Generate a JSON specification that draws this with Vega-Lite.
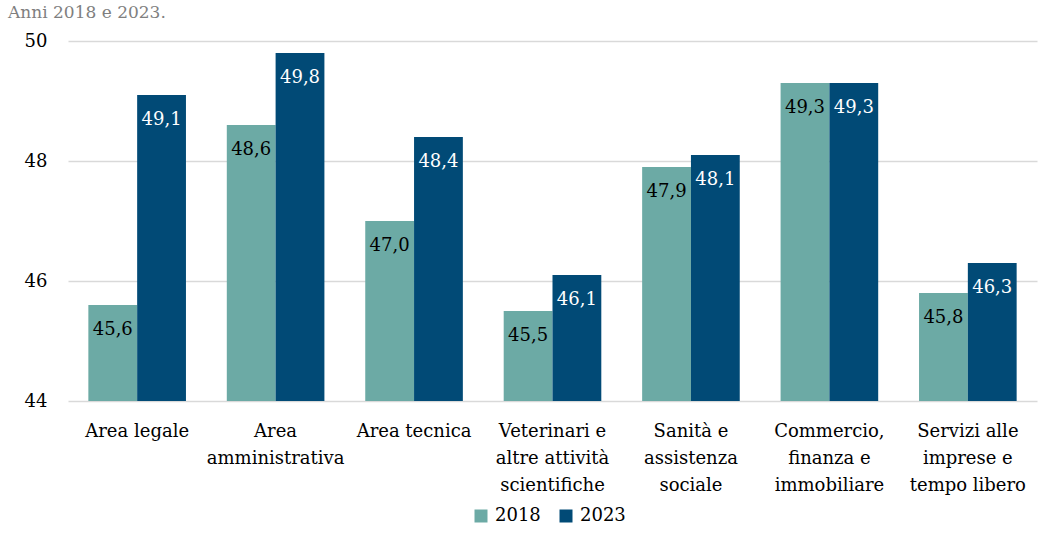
{
  "$schema": "https://vega.github.io/schema/vega-lite/v6.json",
  "width": 969,
  "height": 360,
  "autosize": {"type": "none"},
  "padding": {"left": 68, "top": 41, "right": 17, "bottom": 133},
  "background": "white",
  "title": {
    "text": "Anni 2018 e 2023.",
    "anchor": "start",
    "frame": "group",
    "dx": -60,
    "font": "DejaVu Serif",
    "fontSize": 17,
    "fontWeight": "normal",
    "color": "#7f7f7f",
    "baseline": "alphabetic",
    "offset": -3
  },
  "config": {
    "locale": {"number": {"decimal": ",", "thousands": ".", "grouping": [3], "currency": ["€", ""]}},
    "view": {"stroke": null},
    "font": "DejaVu Serif"
  },
  "data": {
    "values": [
      {"categoria": "Area legale", "anno": "2018", "valore": 45.6},
      {"categoria": "Area legale", "anno": "2023", "valore": 49.1},
      {"categoria": "Area amministrativa", "anno": "2018", "valore": 48.6},
      {"categoria": "Area amministrativa", "anno": "2023", "valore": 49.8},
      {"categoria": "Area tecnica", "anno": "2018", "valore": 47.0},
      {"categoria": "Area tecnica", "anno": "2023", "valore": 48.4},
      {"categoria": "Veterinari e altre attività scientifiche", "anno": "2018", "valore": 45.5},
      {"categoria": "Veterinari e altre attività scientifiche", "anno": "2023", "valore": 46.1},
      {"categoria": "Sanità e assistenza sociale", "anno": "2018", "valore": 47.9},
      {"categoria": "Sanità e assistenza sociale", "anno": "2023", "valore": 48.1},
      {"categoria": "Commercio, finanza e immobiliare", "anno": "2018", "valore": 49.3},
      {"categoria": "Commercio, finanza e immobiliare", "anno": "2023", "valore": 49.3},
      {"categoria": "Servizi alle imprese e tempo libero", "anno": "2018", "valore": 45.8},
      {"categoria": "Servizi alle imprese e tempo libero", "anno": "2023", "valore": 46.3}
    ]
  },
  "encoding": {
    "x": {
      "field": "categoria",
      "type": "nominal",
      "sort": null,
      "title": null,
      "scale": {"paddingInner": 0.295, "paddingOuter": 0.147},
      "axis": {
        "labelAngle": 0,
        "domain": false,
        "ticks": false,
        "labelFont": "DejaVu Serif",
        "labelFontSize": 18,
        "labelColor": "#000000",
        "labelPadding": 21,
        "labelLineHeight": 27,
        "labelLimit": 0,
        "labelExpr": "{'Area amministrativa': ['Area', 'amministrativa'], 'Veterinari e altre attività scientifiche': ['Veterinari e', 'altre attività', 'scientifiche'], 'Sanità e assistenza sociale': ['Sanità e', 'assistenza', 'sociale'], 'Commercio, finanza e immobiliare': ['Commercio,', 'finanza e', 'immobiliare'], 'Servizi alle imprese e tempo libero': ['Servizi alle', 'imprese e', 'tempo libero']}[datum.value] || datum.value"
      }
    },
    "xOffset": {"field": "anno", "type": "nominal"},
    "y": {
      "field": "valore",
      "type": "quantitative",
      "title": null,
      "scale": {"domain": [44, 50], "zero": false, "nice": false},
      "axis": {
        "values": [44, 46, 48, 50],
        "format": "d",
        "domain": false,
        "ticks": false,
        "grid": true,
        "gridColor": "#d9d9d9",
        "gridWidth": 1.5,
        "labelFont": "DejaVu Serif",
        "labelFontSize": 18,
        "labelColor": "#000000",
        "labelPadding": 21
      }
    }
  },
  "layer": [
    {
      "mark": {"type": "bar", "clip": true},
      "encoding": {
        "y2": {"datum": 44},
        "color": {
          "field": "anno",
          "type": "nominal",
          "title": null,
          "scale": {"domain": ["2018", "2023"], "range": ["#6caaa5", "#014a76"]},
          "legend": {
            "orient": "none",
            "legendX": 404,
            "legendY": 466,
            "direction": "horizontal",
            "symbolType": "square",
            "symbolSize": 169,
            "symbolStrokeWidth": 0,
            "labelFont": "DejaVu Serif",
            "labelFontSize": 18,
            "labelColor": "#000000",
            "columnPadding": 16,
            "labelOffset": 5
          }
        }
      }
    },
    {
      "mark": {"type": "text", "dy": 25, "baseline": "middle", "font": "DejaVu Serif", "fontSize": 18},
      "encoding": {
        "text": {"field": "valore", "type": "quantitative", "format": ".1f"},
        "color": {
          "condition": {"test": "datum.anno === '2018'", "value": "#000000"},
          "value": "#ffffff"
        }
      }
    }
  ]
}
